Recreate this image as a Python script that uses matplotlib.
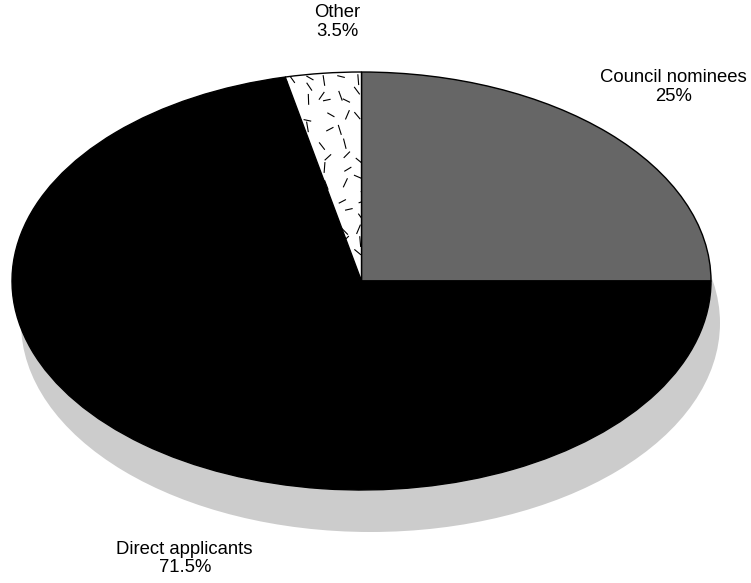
"""Pie chart: source of applicants, with drop shadow and textured small slice."""
import matplotlib
matplotlib.use("Agg")
import matplotlib.pyplot as plt
import numpy as np
from matplotlib.collections import LineCollection
from matplotlib.patches import Ellipse

labels = ["Council nominees", "Direct applicants", "Other"]
shares = [25.0, 71.5, 3.5]
pct_text = ["25%", "71.5%", "3.5%"]
colors = ["#666666", "#000000", "#ffffff"]

# text anchor (axes fraction) for each label block
label_pos = [(0.897, 0.851), (0.246, 0.042), (0.449, 0.962)]

W, H = 751, 583
CX, CY = 361.5, 281.0     # pie centre, pixels from top-left
RX, RY = 349.5, 209.0     # ellipse radii, pixels
SHADOW_DX, SHADOW_DY = 9, 42

plt.rcParams["font.family"] = ["Liberation Sans", "DejaVu Sans"]

fig = plt.figure(figsize=(W / 100, H / 100), dpi=100)
ax = fig.add_axes([0, 0, 1, 1])

wedges, _ = ax.pie(
    shares,
    colors=colors,
    startangle=90,
    counterclock=False,
    wedgeprops=dict(edgecolor="black", linewidth=1.0),
)
ax.set_aspect("auto")
ax.set_xlim(-CX / RX, (W - CX) / RX)
ax.set_ylim(-(H - CY) / RY, CY / RY)
ax.axis("off")

# grey drop shadow behind the pie
shadow = Ellipse((SHADOW_DX / RX, -SHADOW_DY / RY), 2, 2,
                 facecolor="#cccccc", edgecolor="none", zorder=0)
ax.add_patch(shadow)
for w in wedges:
    w.set_zorder(2)

# scattered dash texture inside the "Other" slice
rng = np.random.default_rng(7)
other = wedges[2]
segs = []
for gx in np.arange(-0.25, 0.02, 0.05):
    for gy in np.arange(0.0, 1.02, 0.065):
        x = gx + rng.uniform(-0.015, 0.015)
        y = gy + rng.uniform(-0.025, 0.025)
        ang = rng.uniform(0, np.pi)
        dx = 0.011 * np.cos(ang)
        dy = 0.026 * np.sin(ang)
        segs.append([(x - dx, y - dy), (x + dx, y + dy)])
lc = LineCollection(segs, colors="black", linewidths=0.8, zorder=3)
lc.set_clip_path(other)
ax.add_collection(lc)

for name, pct, (tx, ty) in zip(labels, pct_text, label_pos):
    ax.text(tx, ty, f"{name}\n{pct}", transform=ax.transAxes,
            ha="center", va="center", fontsize=13.3, linespacing=1.15)

fig.savefig("out.png", dpi=100)
